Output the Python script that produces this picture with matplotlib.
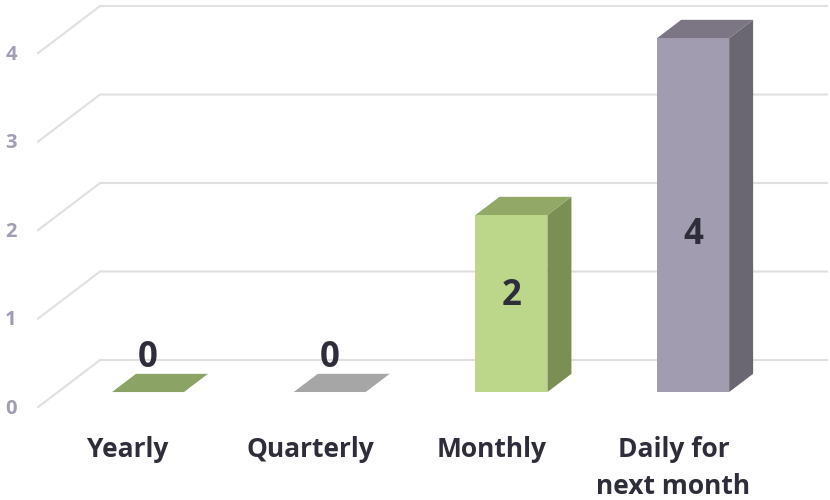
"""Update frequency chart: 3D-style column chart drawn with flat polygons."""
import matplotlib
matplotlib.use("Agg")
import matplotlib.pyplot as plt
from matplotlib.patches import Polygon

categories = ["Yearly", "Quarterly", "Monthly", "Daily for\nnext month"]
counts = [0, 0, 2, 4]
yticks = [0, 1, 2, 3, 4]

# front / top / side shades per column
front_colors = ["#a9c47f", "#bfbfbf", "#bcd68a", "#a19caf"]
top_colors = ["#8ba465", "#a6a6a6", "#91a866", "#7c7583"]
side_colors = ["#7b8f55", "#8c8c8c", "#7b8f55", "#6a6672"]

TEXT = "#2e2d3a"
TICK = "#a29db3"
GRID = "#e0e0e0"
FONT = ["Open Sans", "DejaVu Sans"]

# oblique projection: depth d runs 0 (front of floor) .. 1 (back wall)
DX, DY = 0.341, 0.532
D_BAR0, D_BAR1 = 0.32, 0.707
W = 0.396


def proj(x, v, d):
    return (x + (d - D_BAR0) * DX, v + (d - D_BAR0) * DY)


fig = plt.figure(figsize=(8.3, 5), dpi=100)
ax = fig.add_axes([0, 0, 1, 1])
ax.set_xlim(-0.8145, 3.753)
ax.set_ylim(-1.22, 4.43)
ax.axis("off")

# gridlines: floor-side diagonal plus back wall line
x_left = -0.496
x_right = 3.737 - (1 - D_BAR0) * DX
for v in yticks:
    pts = [proj(x_left, v, 0), proj(x_left, v, 1), proj(x_right, v, 1)]
    ax.plot([p[0] for p in pts], [p[1] for p in pts], color=GRID, lw=1.5,
            solid_joinstyle="miter", zorder=1)
    fx, fy = proj(x_left, v, 0)
    ax.text(-0.754, fy - 0.02, str(v), ha="center", va="center", fontsize=14.5,
            fontweight="bold", color=TICK, family=FONT)

for i, v in enumerate(counts):
    l, r = i - W / 2, i + W / 2
    front = [proj(l, 0, D_BAR0), proj(r, 0, D_BAR0), proj(r, v, D_BAR0), proj(l, v, D_BAR0)]
    top = [proj(l, v, D_BAR0), proj(r, v, D_BAR0), proj(r, v, D_BAR1), proj(l, v, D_BAR1)]
    side = [proj(r, 0, D_BAR0), proj(r, 0, D_BAR1), proj(r, v, D_BAR1), proj(r, v, D_BAR0)]
    if v > 0:
        ax.add_patch(Polygon(front, closed=True, fc=front_colors[i], ec="none", zorder=3))
        ax.add_patch(Polygon(side, closed=True, fc=side_colors[i], ec="none", zorder=3))
    ax.add_patch(Polygon(top, closed=True, fc=top_colors[i], ec="none", zorder=3))

    ax.text(i, 0.38 + 0.35 * v, str(v), ha="center", va="center", fontsize=25,
            fontweight="bold", color=TEXT, family=FONT, zorder=5)

    lx, ly = proj(i, 0, 0)
    ax.text(lx, -0.5, categories[i], ha="center", va="top", fontsize=19,
            fontweight="bold", color=TEXT, family=FONT, linespacing=1.45)

fig.savefig("out.png", dpi=100)
